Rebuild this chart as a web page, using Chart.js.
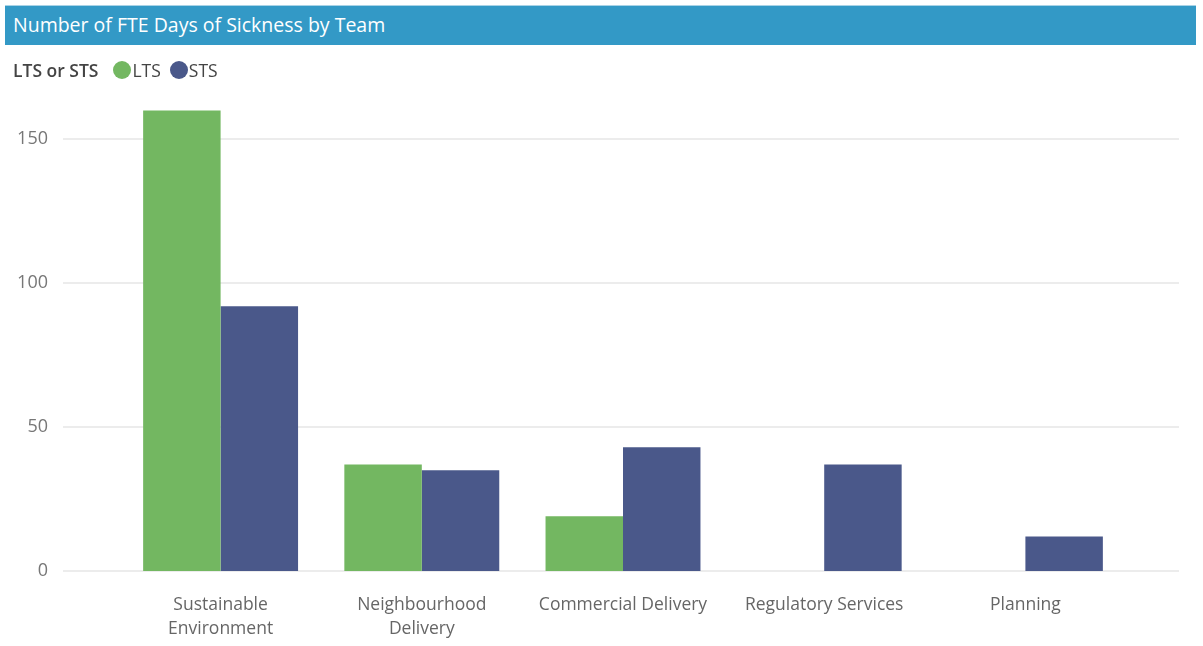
<!DOCTYPE html>
<html>
<head>
<meta charset="utf-8">
<title>Number of FTE Days of Sickness by Team</title>
<script src="https://cdn.jsdelivr.net/npm/chart.js@4"></script>
<style>
  html, body { margin: 0; padding: 0; background: #fff; }
  body { width: 1203px; height: 646px; position: relative; overflow: hidden; font-family: "Open Sans", "Noto Sans", sans-serif; }
  .header {
    position: absolute; left: 5px; top: 5px; width: 1191px; height: 40px;
    background: #3399c6; border-top: 1px solid #a9d3e6; box-sizing: border-box;
    color: #fff; font-size: 19.5px; line-height: 38px; padding-left: 8px;
  }
  .legend {
    position: absolute; left: 13px; top: 58px; height: 24px;
    display: flex; align-items: center; font-size: 17.5px; color: #444;
  }
  .legend b { font-weight: 600; margin-right: 15px; }
  .legend .item { display: flex; align-items: center; margin-right: 9px; }
  .legend .dot { width: 18px; height: 18px; border-radius: 50%; margin-right: 1px; }
  .wrap { position: absolute; left: 0; top: 0; width: 1203px; height: 668px; }
</style>
</head>
<body>
<div class="wrap"><canvas id="sicknessChart" width="1203" height="668"></canvas></div>
<div class="header">Number of FTE Days of Sickness by Team</div>
<div class="legend" id="sicknessLegend"><b>LTS or STS</b></div>
<script>
const teams = [
  ['Sustainable', 'Environment'],
  ['Neighbourhood', 'Delivery'],
  'Commercial Delivery',
  'Regulatory Services',
  'Planning'
]
const ltsDays = [160, 37, 19, null, null]
const stsDays = [92, 35, 43, 37, 12]
const yTicks = [0, 50, 100, 150]

// horizontal gridlines run a bit past the plot area on both sides
const wideGrid = {
  id: 'wideGrid',
  beforeDatasetsDraw(chart) {
    const {ctx, chartArea, scales: {y}} = chart
    ctx.save()
    ctx.strokeStyle = '#ececec'
    ctx.lineWidth = 2
    y.ticks.forEach(t => {
      const py = Math.round(y.getPixelForValue(t.value))
      ctx.beginPath()
      ctx.moveTo(chartArea.left - 57, py)
      ctx.lineTo(chartArea.right + 53, py)
      ctx.stroke()
    })
    ctx.restore()
  }
}

const chart = new Chart(document.getElementById('sicknessChart'), {
  type: 'bar',
  data: {
    labels: teams,
    datasets: [{
      label: 'LTS',
      data: ltsDays,
      backgroundColor: '#73b761'
    }, {
      label: 'STS',
      data: stsDays,
      backgroundColor: '#4a588a'
    }]
  },
  options: {
    responsive: false,
    animation: false,
    layout: { padding: { top: 96, right: 77, bottom: 13, left: 0 } },
    datasets: {
      bar: { categoryPercentage: 0.77, barPercentage: 1 }
    },
    plugins: {
      legend: { display: false },
      tooltip: { enabled: false }
    },
    scales: {
      x: {
        grid: { display: false },
        border: { display: false },
        ticks: {
          color: '#666',
          font: { family: '"Open Sans", "Noto Sans", sans-serif', size: 17.5, lineHeight: 1.37 },
          padding: 14,
          maxRotation: 0,
          autoSkip: false
        }
      },
      y: {
        min: 0,
        max: 165,
        afterFit(scale) { scale.width = 120 },
        grid: { display: false },
        border: { display: false },
        afterBuildTicks(scale) { scale.ticks = yTicks.map(v => ({value: v})) },
        ticks: {
          color: '#777',
          font: { family: '"Open Sans", "Noto Sans", sans-serif', size: 18 },
          padding: 64
        }
      }
    }
  },
  plugins: [wideGrid]
})

// html legend from the dataset colours
const legendEl = document.getElementById('sicknessLegend')
chart.data.datasets.forEach(ds => {
  const item = document.createElement('span')
  item.className = 'item'
  item.innerHTML = '<span class="dot" style="background:' + ds.backgroundColor + '"></span>' + ds.label
  legendEl.appendChild(item)
})
</script>
</body>
</html>
